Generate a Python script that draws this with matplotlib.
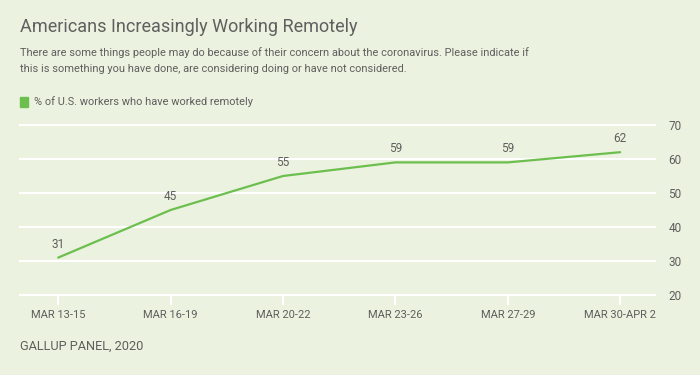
import matplotlib
matplotlib.use('Agg')
import matplotlib.pyplot as plt
from matplotlib.patches import Rectangle

periods = ['MAR 13-15', 'MAR 16-19', 'MAR 20-22', 'MAR 23-26', 'MAR 27-29', 'MAR 30-APR 2']
remotePct = [31, 45, 55, 59, 59, 62]
yTicks = [20, 30, 40, 50, 60, 70]

bgColor = '#ebf2df'
textColor = '#5f5f5f'
lineColor = '#6cbf4e'
plt.rcParams['font.family'] = ['Roboto', 'DejaVu Sans']

fig = plt.figure(figsize=(7, 3.75), dpi=100, facecolor=bgColor)
ax = fig.add_axes([20 / 700, 1 - 295 / 375, 635 / 700, 170 / 375])
ax.set_facecolor(bgColor)

x = list(range(len(periods)))
ax.plot(x, remotePct, color=lineColor, lw=1.6, zorder=3, solid_capstyle='round')
for xi, v in zip(x, remotePct):
    ax.annotate(str(v), (xi, v), xytext=(0, 5), textcoords='offset points',
                ha='center', va='bottom', fontsize=8.5, color=textColor)

ax.set_xlim(-0.34, 5.31)
ax.set_ylim(20, 70)
ax.set_yticks(yTicks)
ax.yaxis.tick_right()
ax.set_xticks(x)
ax.set_xticklabels(periods)
ax.tick_params(axis='y', length=0, pad=9.5, labelsize=8.5, labelcolor=textColor)
ax.tick_params(axis='x', length=7, width=1.5, color='white', pad=4, labelsize=8, labelcolor=textColor)
ax.grid(axis='y', color='white', lw=1.5)
for s in ax.spines.values():
    s.set_visible(False)
for gl in ax.get_ygridlines():
    gl.set_clip_on(False)

fig.text(20 / 700, 1 - 27 / 375, 'Americans Increasingly Working Remotely', fontsize=13,
         color=textColor, va='center', ha='left')
fig.text(20 / 700, 1 - 53 / 375, 'There are some things people may do because of their concern about the coronavirus. Please indicate if',
         fontsize=7.9, color=textColor, va='center')
fig.text(20 / 700, 1 - 68.5 / 375, 'this is something you have done, are considering doing or have not considered.',
         fontsize=7.9, color=textColor, va='center')
fig.patches.append(Rectangle((20 / 700, 1 - 107 / 375), 8 / 700, 10 / 375,
                             transform=fig.transFigure, color=lineColor, figure=fig))
fig.text(34 / 700, 1 - 102 / 375, '% of U.S. workers who have worked remotely',
         fontsize=7.9, color=textColor, va='center')
fig.text(20 / 700, 1 - 346 / 375, 'GALLUP PANEL, 2020', fontsize=9.2, color=textColor, va='center')

fig.savefig('out.png', dpi=100, facecolor=bgColor)
